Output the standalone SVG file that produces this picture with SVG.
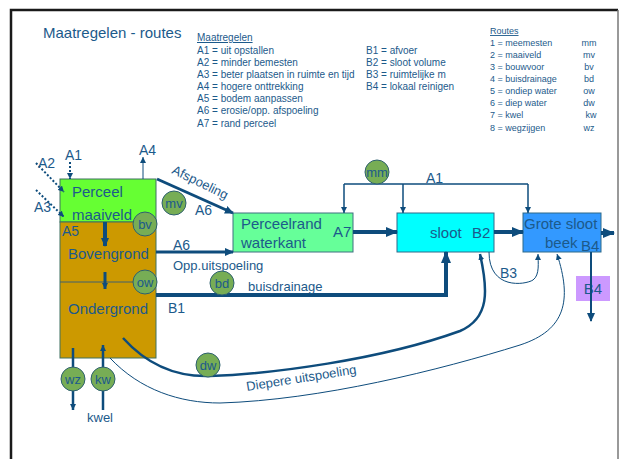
<svg xmlns="http://www.w3.org/2000/svg" width="620" height="459" viewBox="0 0 620 459">
<defs>
<style>
text{font-family:"Liberation Sans",Arial,sans-serif;fill:#1C5A8B}
.t15{font-size:15px}
.t14{font-size:14px}
.t13{font-size:13px}
.t10{font-size:10px}
.t9{font-size:9px}
.ln{stroke:#0E4C7C;fill:none}
.circ{fill:#77AD55;stroke:#2E6070;stroke-width:1}
.ct{font-size:13px;text-anchor:middle}
</style>
<marker id="ah" markerUnits="userSpaceOnUse" markerWidth="12" markerHeight="10" refX="11" refY="5" orient="auto"><path d="M0,0 L12,5 L0,10 z" fill="#0E4C7C"/></marker>
<marker id="am" markerUnits="userSpaceOnUse" markerWidth="9" markerHeight="8" refX="8" refY="4" orient="auto"><path d="M0,0 L9,4 L0,8 z" fill="#0E4C7C"/></marker>
<marker id="as" markerUnits="userSpaceOnUse" markerWidth="6" markerHeight="6" refX="6" refY="3" orient="auto"><path d="M0,0 L6,3 L0,6 z" fill="#0E4C7C"/></marker>
</defs>
<rect width="620" height="459" fill="#fff"/>
<!-- frame -->
<path d="M11,459 V10 H618" stroke="#1a1a1a" stroke-width="2.5" fill="none"/>
<path d="M618,10 V459" stroke="#777" stroke-width="1.5" fill="none"/>

<!-- legend -->
<g id="title"><text class="t15" x="43" y="38">Maatregelen - routes</text></g>
<g id="legend-maatregelen" class="t10">
<text class="t10" x="197" y="41" text-decoration="underline">Maatregelen</text>
<text class="t10" x="197" y="54">A1 = uit opstallen</text>
<text class="t10" x="197" y="66">A2 = minder bemesten</text>
<text class="t10" x="197" y="78">A3 = beter plaatsen in ruimte en tijd</text>
<text class="t10" x="197" y="90">A4 = hogere onttrekking</text>
<text class="t10" x="197" y="102">A5 = bodem aanpassen</text>
<text class="t10" x="197" y="114">A6 = erosie/opp. afspoeling</text>
<text class="t10" x="197" y="127">A7 = rand perceel</text>
<text class="t10" x="366" y="54">B1 = afvoer</text>
<text class="t10" x="366" y="66">B2 = sloot volume</text>
<text class="t10" x="366" y="78">B3 = ruimtelijke m</text>
<text class="t10" x="366" y="90">B4 = lokaal reinigen</text>
</g>
<g id="legend-routes">
<text class="t9" x="490" y="34" text-decoration="underline">Routes</text>
<text class="t9" x="490" y="46">1 = meemesten</text>
<text class="t9" x="490" y="58">2 = maaiveld</text>
<text class="t9" x="490" y="70">3 = bouwvoor</text>
<text class="t9" x="490" y="82">4 = buisdrainage</text>
<text class="t9" x="490" y="94">5 = ondiep water</text>
<text class="t9" x="490" y="106">6 = diep water</text>
<text class="t9" x="490" y="118">7 = kwel</text>
<text class="t9" x="490" y="131">8 = wegzijgen</text>
<g text-anchor="middle">
<text class="t9" x="589" y="46">mm</text>
<text class="t9" x="589" y="58">mv</text>
<text class="t9" x="589" y="70">bv</text>
<text class="t9" x="589" y="82">bd</text>
<text class="t9" x="589" y="94">ow</text>
<text class="t9" x="589" y="106">dw</text>
<text class="t9" x="591" y="118">kw</text>
<text class="t9" x="589" y="131">wz</text>
</g>
</g>

<!-- nodes -->
<g id="perceel">
<rect x="60" y="179" width="96" height="43" fill="#66FF33" stroke="#3E7060" stroke-width="1"/>
<text class="t15" x="72" y="197">Perceel</text>
<text class="t15" x="72" y="220">maaiveld</text>
</g>
<g id="bodem">
<rect x="60" y="222" width="96" height="136" fill="#CC9900" stroke="#3E7060" stroke-width="1"/>
<line x1="60" y1="282" x2="156" y2="282" stroke="#3E6070" stroke-width="1"/>
<text class="t14" x="62" y="236">A5</text>
<text class="t15" x="68" y="259">Bovengrond</text>
<text class="t15" x="68" y="314">Ondergrond</text>
</g>
<g id="perceelrand">
<rect x="233" y="213" width="120" height="39" fill="#66FF99" stroke="#3E7080" stroke-width="1"/>
<text class="t15" x="241" y="229">Perceelrand</text>
<text class="t15" x="241" y="248">waterkant</text>
<text class="t15" x="333" y="237">A7</text>
</g>
<g id="sloot">
<rect x="397" y="213" width="97" height="39" fill="#00FFFF" stroke="#2E6A8A" stroke-width="1"/>
<text class="t15" x="430" y="238">sloot</text>
<text class="t15" x="472" y="238">B2</text>
</g>
<g id="grotesloot">
<rect x="523" y="213" width="78" height="39" fill="#3399FF" stroke="#2E6A8A" stroke-width="1"/>
<text class="t15" x="524" y="229">Grote sloot</text>
<text class="t15" x="545" y="248">beek</text>
<text class="t15" x="581" y="251">B4</text>
</g>
<g id="b4box">
<rect x="576" y="276" width="34" height="25" fill="#CC99FF"/>
<text class="t15" x="593" y="294" text-anchor="middle">B4</text>
</g>

<!-- connectors -->
<g id="connectors">
<!-- A1 dotted -->
<line class="ln" x1="70" y1="162" x2="70" y2="179" stroke-width="2" stroke-dasharray="2,2" marker-end="url(#as)"/>
<line class="ln" x1="36" y1="163" x2="64" y2="192" stroke-width="2" stroke-dasharray="2,2" marker-end="url(#as)"/>
<line class="ln" x1="36" y1="190" x2="64" y2="217" stroke-width="2" stroke-dasharray="2,2" marker-end="url(#as)"/>
<!-- A4 -->
<line class="ln" x1="143" y1="179" x2="143" y2="157" stroke-width="1" marker-end="url(#as)"/>
<!-- Afspoeling -->
<line class="ln" x1="157" y1="179" x2="233" y2="213" stroke-width="3" marker-end="url(#am)"/>
<!-- A6 opp -->
<line class="ln" x1="156" y1="252" x2="233" y2="252" stroke-width="3" marker-end="url(#am)"/>
<!-- vertical arrows in soil -->
<line class="ln" x1="105" y1="222" x2="105" y2="246" stroke-width="4" marker-end="url(#am)"/>
<line class="ln" x1="105" y1="272" x2="105" y2="289" stroke-width="3" marker-end="url(#as)"/>
<!-- A7 -->
<line class="ln" x1="353" y1="232" x2="397" y2="232" stroke-width="4" marker-end="url(#ah)"/>
<line class="ln" x1="494" y1="232" x2="523" y2="232" stroke-width="4" marker-end="url(#ah)"/>
<line class="ln" x1="601" y1="233" x2="614" y2="233" stroke-width="4" marker-end="url(#ah)"/>
<!-- A1 bracket -->
<path class="ln" d="M344,184 H528" stroke-width="1.5"/>
<line class="ln" x1="344" y1="184" x2="344" y2="213" stroke-width="1.5" marker-end="url(#as)"/>
<line class="ln" x1="403" y1="184" x2="403" y2="213" stroke-width="1.5" marker-end="url(#as)"/>
<line class="ln" x1="528" y1="184" x2="528" y2="213" stroke-width="1.5" marker-end="url(#as)"/>
<!-- buisdrainage -->
<path class="ln" d="M156,295 H446 V252" stroke-width="4" marker-end="url(#ah)"/>
<!-- B4 down -->
<line class="ln" x1="591" y1="252" x2="591" y2="321" stroke-width="2" marker-end="url(#am)"/>
<!-- B3 -->
<path class="ln" d="M489,252 C489,290 525,285 533,280 C540,275 538,262 538,254" stroke-width="1" marker-end="url(#as)"/>
<!-- diepere uitspoeling -->
<path class="ln" d="M123,338 C150,368 180,377 210,376 C270,374 380,360 460,331 C490,318 488,290 480,254" stroke-width="2.5" marker-end="url(#as)"/>
<path class="ln" d="M110,358 C140,390 180,403 220,403 C320,400 440,370 520,345 C566,330 572,300 557,254" stroke-width="1" marker-end="url(#as)"/>
<!-- wz / kw -->
<line class="ln" x1="73" y1="348" x2="73" y2="410" stroke-width="2.5" marker-end="url(#as)"/>
<line class="ln" x1="103" y1="410" x2="103" y2="345" stroke-width="2.5" marker-end="url(#as)"/>
</g>

<!-- connector labels -->
<g id="labels">
<text class="t14" x="65" y="160">A1</text>
<text class="t14" x="38" y="168">A2</text>
<text class="t14" x="34" y="212">A3</text>
<text class="t14" x="139" y="155">A4</text>
<text class="t13" transform="translate(171,173) rotate(26)">Afspoeling</text>
<text class="t14" x="195" y="215">A6</text>
<text class="t14" x="173" y="250">A6</text>
<text class="t13" x="173" y="270">Opp.uitspoeling</text>
<text class="t13" x="248" y="291">buisdrainage</text>
<text class="t14" x="168" y="313">B1</text>
<text class="t14" x="426" y="183">A1</text>
<text class="t14" x="500" y="278">B3</text>
<text class="t13" transform="translate(247,391) rotate(-9)">Diepere uitspoeling</text>
<text class="t13" x="87" y="422">kwel</text>
</g>

<!-- route circles -->
<g id="circles">
<g id="c-mv"><circle class="circ" cx="174" cy="203" r="12"/><text class="ct" x="174" y="208">mv</text></g>
<g id="c-bv"><circle class="circ" cx="145" cy="224" r="12"/><text class="ct" x="145" y="229">bv</text></g>
<g id="c-ow"><circle class="circ" cx="145" cy="282" r="12"/><text class="ct" x="145" y="287">ow</text></g>
<g id="c-bd"><circle class="circ" cx="222" cy="283" r="12"/><text class="ct" x="222" y="288">bd</text></g>
<g id="c-mm"><circle class="circ" cx="377" cy="172" r="12"/><text class="ct" x="377" y="177">mm</text></g>
<g id="c-dw"><circle class="circ" cx="208" cy="365" r="12"/><text class="ct" x="208" y="370">dw</text></g>
<g id="c-wz"><circle class="circ" cx="73" cy="379" r="12"/><text class="ct" x="73" y="384">wz</text></g>
<g id="c-kw"><circle class="circ" cx="103" cy="379" r="12"/><text class="ct" x="103" y="384">kw</text></g>
</g>
</svg>
